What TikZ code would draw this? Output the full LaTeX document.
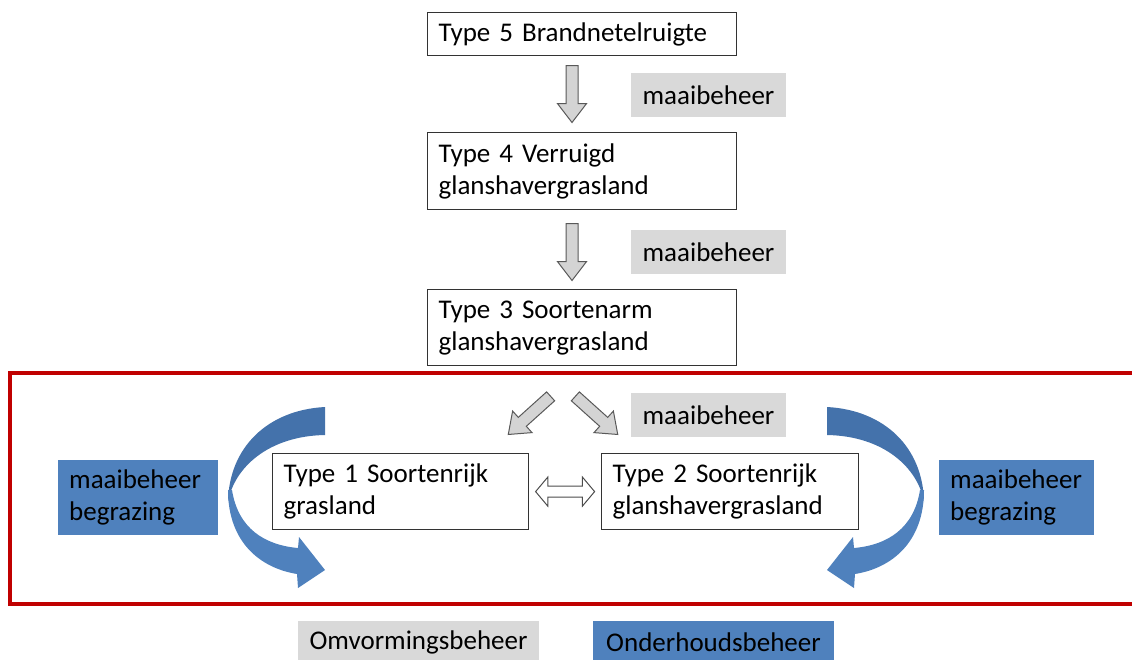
\documentclass[tikz,border=0pt]{standalone}
\usepackage{fontspec}
\setmainfont{Carlito}
\usetikzlibrary{calc,shapes.arrows}
\definecolor{frameRed}{HTML}{C00000}
\definecolor{mowGray}{HTML}{D9D9D9}
\definecolor{careBlue}{HTML}{4F81BD}
\definecolor{careBlueDark}{HTML}{4472AB}
\definecolor{arrowGray}{HTML}{D4D4D4}

\begin{document}
\begin{tikzpicture}[x=1pt, y=-1pt,
  every node/.style={font=\fontsize{27}{32}\selectfont},
  typebox/.style={draw=black!80, line width=1.2pt, fill=white, anchor=north west,
    inner xsep=11pt, inner ysep=0pt, align=left},
  mowlabel/.style={fill=mowGray, inner xsep=11.5pt, minimum height=44pt},
  carelabel/.style={fill=careBlue, inner xsep=11pt, inner ysep=0pt},
  blockarrow/.style={single arrow, draw=black!65, fill=arrowGray, line width=1pt,
    inner xsep=0pt, inner ysep=5.5pt, single arrow head extend=8.5pt,
    single arrow tip angle=75, minimum height=57pt, anchor=tail},
  ]
  \clip (0,0) rectangle (1132,659);

  % red frame round the onderhoud part
  \draw[frameRed, line width=3.5pt] (10,373) rectangle (1150,604);

  % \bendarrow{transform}: the big curved blue arrow, left hand version
  \newcommand{\bendarrow}[1]{%
    \begin{scope}[#1]
      \fill[careBlueDark] (325,407) .. controls (268,410) and (229,447) .. (228,502)
        .. controls (234,468) and (268,436) .. (325,435) -- cycle;
      \fill[careBlue] (228,490) .. controls (228,542) and (260,568) .. (297,574)
        -- (298,588) -- (325,570) -- (299,537) -- (298,548)
        .. controls (264,545) and (238,528) .. (232,490) -- cycle;
    \end{scope}
  }
  \bendarrow{}
  \bendarrow{xshift=1152pt, xscale=-1}

  % ---------- type boxes ----------
  \node[typebox, text width=287pt, minimum height=43pt] (t5) at (427,12)
    {Type 5 Brandnetelruigte};
  \node[typebox, text width=287pt, minimum height=77pt] (t4) at (427,132)
    {Type 4 Verruigd\\glanshavergrasland};
  \node[typebox, text width=287pt, minimum height=76pt] (t3) at (427,289)
    {Type 3 Soortenarm\\glanshavergrasland};
  \node[typebox, text width=234pt, minimum height=76pt] (t1) at (272,453)
    {Type 1 Soortenrijk\\grasland};
  \node[typebox, text width=235pt, minimum height=76pt] (t2) at (601,453)
    {Type 2 Soortenrijk\\glanshavergrasland};

  % ---------- block arrows ----------
  \node[blockarrow, rotate=-90] (a54) at (572,65) {};
  \node[blockarrow, rotate=-90] (a43) at (572,223) {};
  \node[blockarrow, rotate=-138] (a31) at (551,396) {};
  \node[blockarrow, rotate=-42] (a32) at (575,396) {};
  \node[double arrow, draw=black!70, fill=white, line width=1pt, inner xsep=0pt,
    inner ysep=5pt, double arrow head extend=9pt, double arrow tip angle=100,
    minimum height=59pt] (a12) at ($(t1.east)!0.5!(t2.west)$) {};

  % ---------- beheer labels ----------
  \node[mowlabel] (m54) at (708.5,95) {maaibeheer};
  \node[mowlabel] (m43) at (708.5,252) {maaibeheer};
  \node[mowlabel] (m3x) at (708.5,415) {maaibeheer};
  \node[carelabel, anchor=north west, align=left, text width=138pt, minimum height=75pt]
    (c1) at (58,460) {maaibeheer\\begrazing};
  \node[carelabel, anchor=north west, align=left, text width=133pt, minimum height=75pt]
    (c2) at (939,460) {maaibeheer\\begrazing};

  % ---------- legend ----------
  \node[mowlabel, minimum height=42pt] (legmow) at (418.5,642) {Omvormingsbeheer};
  \node[carelabel, inner xsep=13pt, minimum height=42pt] (legcare) at (713.5,642)
    {Onderhoudsbeheer};
\end{tikzpicture}
\end{document}
